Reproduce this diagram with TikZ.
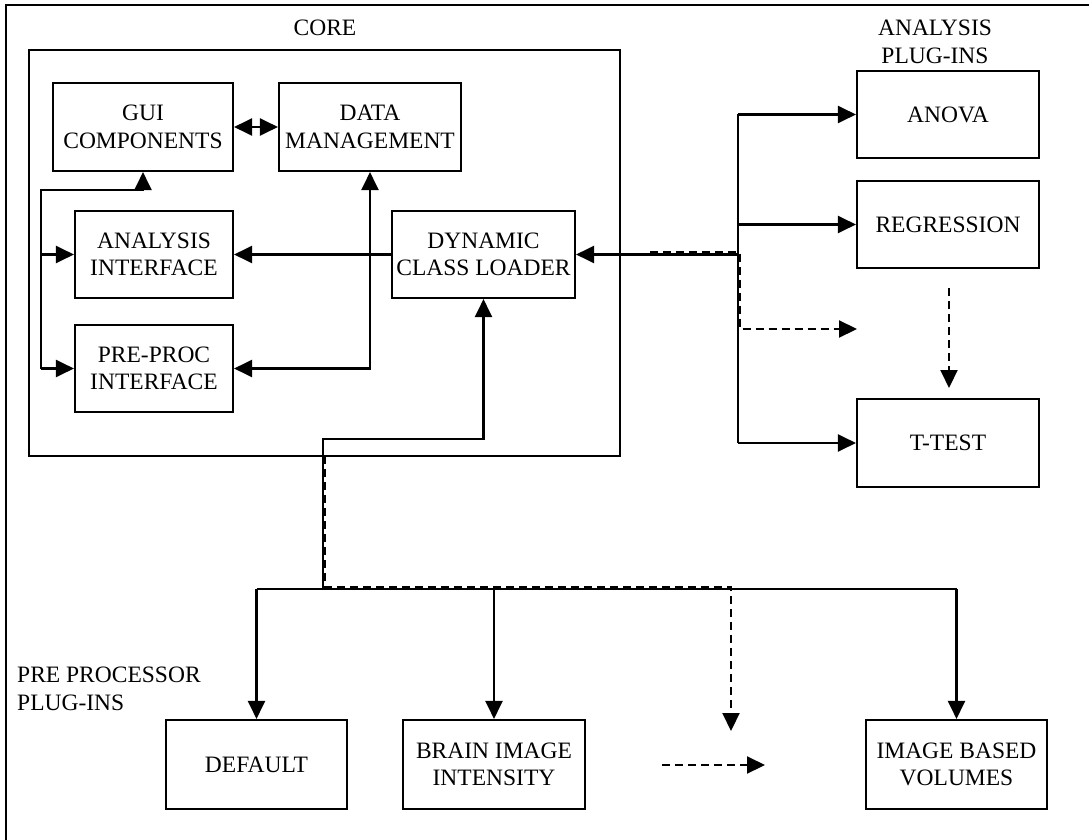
\documentclass[tikz,border=0pt]{standalone}
\usepackage{fontspec}
\setmainfont{Liberation Serif}
\usetikzlibrary{arrows.meta}
\begin{document}
\begin{tikzpicture}[x=1pt,y=-1pt,
  every node/.style={font=\fontsize{23.5}{27.5}\selectfont},
  box/.style={draw, line width=2.1pt, align=center, inner sep=0pt},
  lbl/.style={align=center, inner sep=0pt},
  conn/.style={line width=2.1pt},
  arr/.style={conn, -{Triangle[length=18pt,width=17pt]}},
  arrtwo/.style={conn, {Triangle[length=18pt,width=17pt]}-{Triangle[length=18pt,width=17pt]}},
  dsh/.style={line width=2.1pt, dash pattern=on 8pt off 5pt},
  darr/.style={dsh, -{Triangle[length=18pt,width=17pt]}}
]
\useasboundingbox (0,0) rectangle (1089,840);
% outer frame
\draw[line width=2.1pt] (6,840) -- (6,5) -- (1089,5);

% core container
\node[box, minimum width=591pt, minimum height=406pt] (core) at (324.5,253) {};
\node[lbl, anchor=north] (corelbl) at (325,20) {CORE};

% core components
\node[box, minimum width=180pt, minimum height=88pt] (gui) at (143,127) {GUI\\COMPONENTS};
\node[box, minimum width=182pt, minimum height=88pt] (dm) at (370,127) {DATA\\MANAGEMENT};
\node[box, minimum width=158pt, minimum height=87pt] (ai) at (154,254.5) {ANALYSIS\\INTERFACE};
\node[box, minimum width=183pt, minimum height=87pt] (dcl) at (483.5,254.5) {DYNAMIC\\CLASS LOADER};
\node[box, minimum width=158pt, minimum height=87pt] (pp) at (154,368.5) {PRE-PROC\\INTERFACE};

% analysis plug-ins
\node[lbl, anchor=north] (aplbl) at (935,20) {ANALYSIS\\PLUG-INS};
\node[box, minimum width=182pt, minimum height=87pt] (anova) at (948,114.5) {ANOVA};
\node[box, minimum width=182pt, minimum height=87pt] (reg) at (948,224.5) {REGRESSION};
\node[box, minimum width=182pt, minimum height=88pt] (ttest) at (948,443) {T-TEST};

% pre processor plug-ins
\node[lbl, anchor=north west, align=left] (pplbl) at (17,667) {PRE PROCESSOR\\PLUG-INS};
\node[box, minimum width=181pt, minimum height=89pt] (def) at (256.5,764.5) {DEFAULT};
\node[box, minimum width=182pt, minimum height=89pt] (brain) at (494,764.5) {BRAIN IMAGE\\INTENSITY};
\node[box, minimum width=181pt, minimum height=89pt] (ibv) at (956.5,764.5) {IMAGE BASED\\VOLUMES};

% core internal connectors
\draw[arrtwo] (gui.east) -- (dm.west);
\coordinate (lb1) at (41,190);
\coordinate (lb2) at (41,368.5);
\draw[arr] (lb2) -- (lb1) -| (gui.south);
\draw[arr] (lb1 |- ai.west) -- (ai.west);
\draw[arr] (lb2) -- (pp.west);
\draw[arr] (dcl.west) -- (ai.east);
\draw[arrtwo] (dm.south) |- (pp.east);

% dynamic class loader <- pre processor plug-ins
\coordinate (c1) at (323,439);
\coordinate (c2) at (323,589);
\draw[arr] (c2) -- (c1) -| (dcl.south);
\draw[conn] (def.north |- c2) -- (ibv.north |- c2);
\draw[arr] (def.north |- c2) -- (def.north);
\draw[arr] (brain.north |- c2) -- (brain.north);
\draw[arr] (ibv.north |- c2) -- (ibv.north);
\coordinate (d1) at (325,456);
\coordinate (d2) at (325,587);
\coordinate (d3) at (731,587);
\coordinate (dtipb) at (731,731);
\draw[darr] (d1) -- (d2) -- (d3) -- (dtipb);
\coordinate (h1) at (662,765);
\coordinate (h2) at (765,765);
\draw[darr] (h1) -- (h2);

% dynamic class loader <- analysis plug-ins
\coordinate (j1) at (738,114.5);
\coordinate (j2) at (738,443);
\draw[conn] (j1) -- (j2);
\draw[arr] (j1) -- (anova.west);
\draw[arr] (j1 |- reg.west) -- (reg.west);
\draw[arr] (j2) -- (ttest.west);
\draw[arr] (j1 |- dcl.east) -- (dcl.east);
\coordinate (e1) at (650,252.5);
\coordinate (e2) at (740,252.5);
\coordinate (e3) at (740,329);
\coordinate (etip) at (857,329);
\draw[darr] (e1) -- (e2) -- (e3) -- (etip);
\coordinate (v1) at (949,288);
\coordinate (v2) at (949,388);
\draw[darr] (v1) -- (v2);
\end{tikzpicture}
\end{document}
